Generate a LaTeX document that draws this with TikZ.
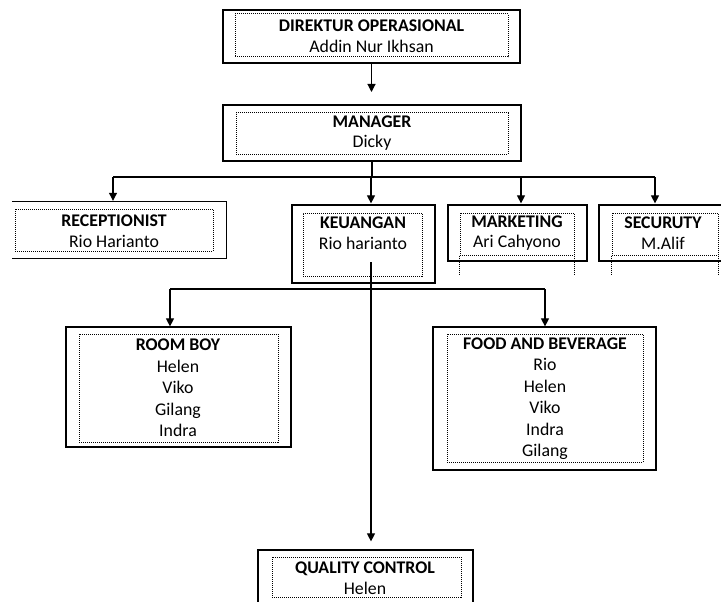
\documentclass[tikz,border=0pt]{standalone}
\usepackage{fontspec}
\setmainfont{Carlito}
\usetikzlibrary{arrows.meta}

\begin{document}
\begin{tikzpicture}[x=1pt,y=-1pt,
  outer/.style={draw,line width=1.2pt,inner sep=0pt},
  bare/.style={inner sep=0pt},
  dots/.style={line width=1pt,dash pattern=on 1pt off 1pt},
  inner/.style={draw,dots,inner sep=0pt},
  txt/.style={align=center,inner sep=0pt,font=\fontsize{17.8}{20.5}\selectfont},
  list/.style={txt,font=\fontsize{17.8}{21.5}\selectfont},
  conn/.style={line width=1.1pt},
  arr/.style={conn,-{Triangle[length=8pt,width=8pt]}}]
\useasboundingbox (0,0) rectangle (721,602);

% top
\node[outer,minimum width=297,minimum height=53] (dir) at (371.5,36.5) {};
\node[inner,minimum width=273,minimum height=43] (dirin) at (371.5,35.5) {};
\node[txt] at (371.5,36) {\textbf{DIREKTUR OPERASIONAL}\\Addin Nur Ikhsan};

\node[outer,minimum width=298,minimum height=56] (mgr) at (372,133) {};
\node[inner,minimum width=272,minimum height=41] (mgrin) at (372,133.5) {};
\node[txt] at (372,133) {\textbf{MANAGER}\\Dicky};

% second row
\node[bare,minimum width=214,minimum height=56] (rec) at (119,230) {};
\draw[line width=1.2pt] (rec.north west) -- (rec.north east) -- (rec.south east) -- (rec.south west);
\node[inner,minimum width=198,minimum height=42] (recin) at (114,230) {};
\node[txt] at (114,231) {\textbf{RECEPTIONIST}\\Rio Harianto};

\node[outer,minimum width=143,minimum height=78] (keu) at (363.5,244) {};
\node[inner,minimum width=119,minimum height=63] (keuin) at (362.5,244.5) {};
\node[txt] at (363,233) {\textbf{KEUANGAN}\\Rio harianto};

\node[outer,minimum width=139,minimum height=56] (mkt) at (517.5,233) {};
\node[inner,minimum width=114,minimum height=42] (mktin) at (517,234) {};
\draw[dots] (mktin.south west) -- ++(0,20);
\draw[dots] (mktin.south east) -- ++(0,20);
\node[txt] at (517,233) {\textbf{MARKETING}\\Ari Cahyono};

\node[outer,minimum width=131,minimum height=56] (sec) at (664.5,233) {};
\node[inner,minimum width=106,minimum height=42] (secin) at (665,234) {};
\draw[dots] (secin.south west) -- ++(0,20);
\draw[dots] (secin.south east) -- ++(0,20);
\node[txt] at (663,233) {\textbf{SECURUTY}\\M.Alif};

% third row
\node[outer,minimum width=225,minimum height=120] (rb) at (178.5,387) {};
\node[inner,minimum width=199,minimum height=108] (rbin) at (178.5,388) {};
\node[list] at (178,388) {\textbf{ROOM BOY}\\Helen\\Viko\\Gilang\\Indra};

\node[outer,minimum width=223,minimum height=143] (fb) at (544.5,398.5) {};
\node[inner,minimum width=196,minimum height=128] (fbin) at (545,398) {};
\node[list] at (545,398.5) {\textbf{FOOD AND BEVERAGE}\\Rio\\Helen\\Viko\\Indra\\Gilang};

% bottom
\node[outer,minimum width=215,minimum height=64] (qc) at (365.5,582) {};
\node[inner,minimum width=189,minimum height=40] (qcin) at (366.5,577) {};
\node[txt] at (365,578) {\textbf{QUALITY CONTROL}\\Helen};

% connectors
\coordinate (mgrtop) at (371.5,92);
\draw[arr] (dir.south) -- (mgrtop);
\coordinate (bus) at (372,177);
\draw[conn] (mgr.south) -- (bus);
\draw[conn] (113,177) -- (655,177);
\foreach \n/\x in {rec/113, keu/371, mkt/521, sec/655} {
  \coordinate (b\n) at (\x,177);
  \draw[arr] (b\n) -- ([yshift=1pt]b\n |- \n.north);
}
\coordinate (kd) at (371,262);
\draw[arr] (kd) -- ([yshift=8pt]kd |- qc.north);
\draw[conn] (170,289) -- (545,289);
\foreach \n/\x in {rb/170, fb/545} {
  \coordinate (c\n) at (\x,289);
  \draw[arr] (c\n) -- (c\n |- \n.north);
}
\end{tikzpicture}
\end{document}
